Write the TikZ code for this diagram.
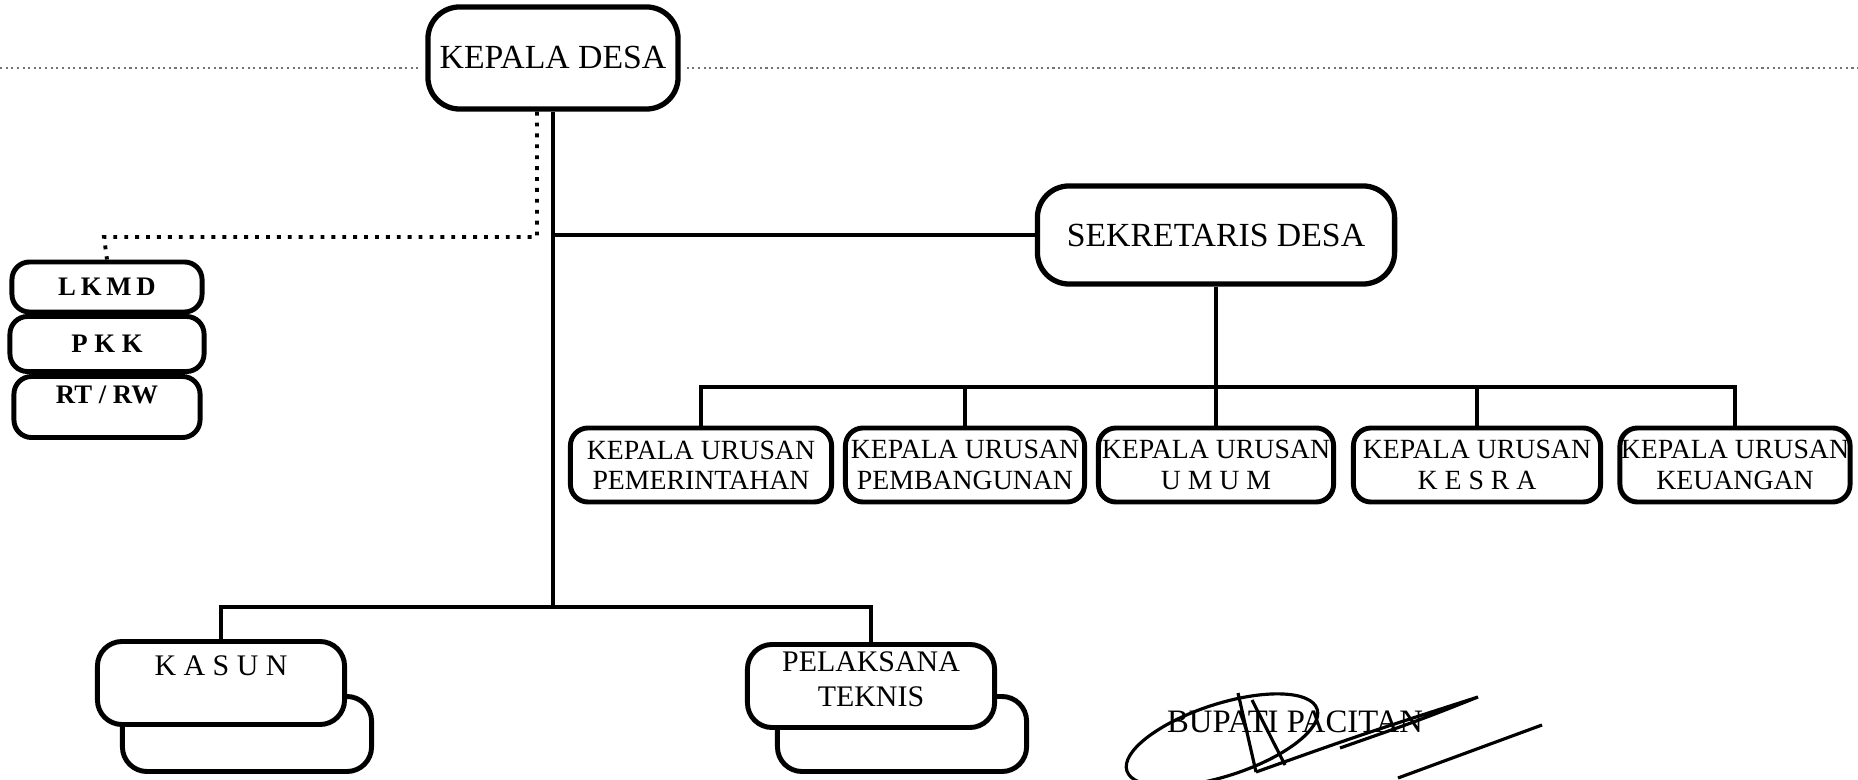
\documentclass[tikz,border=0pt]{standalone}
\usepackage{fontspec}
\setmainfont{Liberation Serif}
\usepackage{tikz}
\usetikzlibrary{positioning,calc}
\tikzset{
  head/.style={rectangle, rounded corners=9pt, draw, line width=1.5pt, fill=white, align=center, font=\fontsize{9.6}{11}\selectfont},
  kaur/.style={rectangle, rounded corners=5pt, draw, line width=1.4pt, fill=white, align=center, inner sep=0pt, minimum height=0.74cm, font=\fontsize{7.9}{8.6}\selectfont},
  lemb/.style={rectangle, rounded corners=5pt, draw, line width=1.4pt, fill=white, align=center, inner sep=0pt, minimum width=1.9cm, font=\bfseries\fontsize{7.6}{8}\selectfont},
  unit/.style={rectangle, rounded corners=7pt, draw, line width=1.4pt, fill=white, align=center, inner sep=0pt, minimum width=2.47cm, minimum height=0.83cm, font=\fontsize{8.5}{10}\selectfont},
  shadow/.style={rectangle, rounded corners=7pt, draw, line width=1.4pt, minimum width=2.49cm, minimum height=0.75cm},
  line/.style={line width=1.4pt},
  dotline/.style={line width=1.1pt, dotted},
  scanline/.style={line width=0.6pt, densely dotted, black!55},
  sign/.style={line width=0.9pt}
}

\begin{document}
\begin{tikzpicture}[x=0.01cm, y=-0.01cm]
\useasboundingbox (0,0) rectangle (1858,780);

\node[head, minimum width=2.42cm, minimum height=1.02cm] (kades) at (553,58) {KEPALA DESA};
\node[head, minimum width=3.57cm, minimum height=0.98cm] (sekdes) at (1216,235) {SEKRETARIS DESA};

% kepala urusan
\node[kaur, minimum width=2.61cm] (kurpem) at (701,465) {KEPALA URUSAN\\PEMERINTAHAN};
\node[kaur, minimum width=2.39cm] (kurbang) at (965,465) {KEPALA URUSAN\\PEMBANGUNAN};
\node[kaur, minimum width=2.35cm] (kurum) at (1216,465) {KEPALA URUSAN\\U M U M};
\node[kaur, minimum width=2.47cm] (kurkes) at (1477,465) {KEPALA URUSAN\\K E S R A};
\node[kaur, minimum width=2.30cm] (kurkeu) at (1735,465) {KEPALA URUSAN\\KEUANGAN};

% lembaga desa
\node[lemb, minimum height=0.50cm] (lkmd) at (107,287) {\addfontfeature{LetterSpace=18}LKMD};
\node[lemb, minimum height=0.55cm, minimum width=1.94cm] (pkk) at (107,344) {P K K};
\node[lemb, minimum height=0.61cm, minimum width=1.86cm, text depth=7pt] (rtrw) at (107,407) {RT / RW};

% kasun dan pelaksana teknis
\node[shadow] (kasunb) at (247,734) {};
\node[unit, text depth=10pt] (kasun) at (221,683) {K A S U N};
\node[shadow] (pelakb) at (902,734) {};
\node[unit, text height=12pt] (pelak) at (871,686) {PELAKSANA\\TEKNIS};

\node[font=\fontsize{9.3}{11}\selectfont] (bupati) at (1295,722) {BUPATI PACITAN};

\coordinate (jt) at (kades.south |- sekdes.west);
\coordinate (jb) at (553,607);
\coordinate (bus) at (1216,387);
\coordinate (dk) at (104,237);
\coordinate (tl) at (0,68);
\coordinate (tr) at (1858,68);

\draw[scanline] (tl) -- ([xshift=-0.06cm]tl -| kades.west);
\draw[scanline] ([xshift=0.06cm]tr -| kades.east) -- (tr);

\draw[line] (kades.south) -- (jb);
\draw[line] (jt) -- (sekdes.west);
\draw[line] (sekdes.south) -- (kurum.north);
\draw[line] (kurpem.north) |- (bus) -| (kurkeu.north);
\draw[line] (kurbang.north) -- (kurbang.north |- bus);
\draw[line] (kurkes.north) -- (kurkes.north |- bus);
\draw[line] (kasun.north) |- (jb) -| (pelak.north);
\draw[dotline] ([xshift=-0.16cm]kades.south) |- (dk) -- (lkmd.north);

% paraf
\draw[sign] (1222,740) ellipse[x radius=100, y radius=36, rotate=18];
\draw[sign] (1238,693) -- (1256,772);
\draw[sign] (1252,700) -- (1285,765);
\draw[sign] (1256,772) .. controls (1360,735) .. (1478,697) .. controls (1420,720) .. (1340,748);
\draw[sign] (1398,778) -- (1542,725);
\end{tikzpicture}
\end{document}
